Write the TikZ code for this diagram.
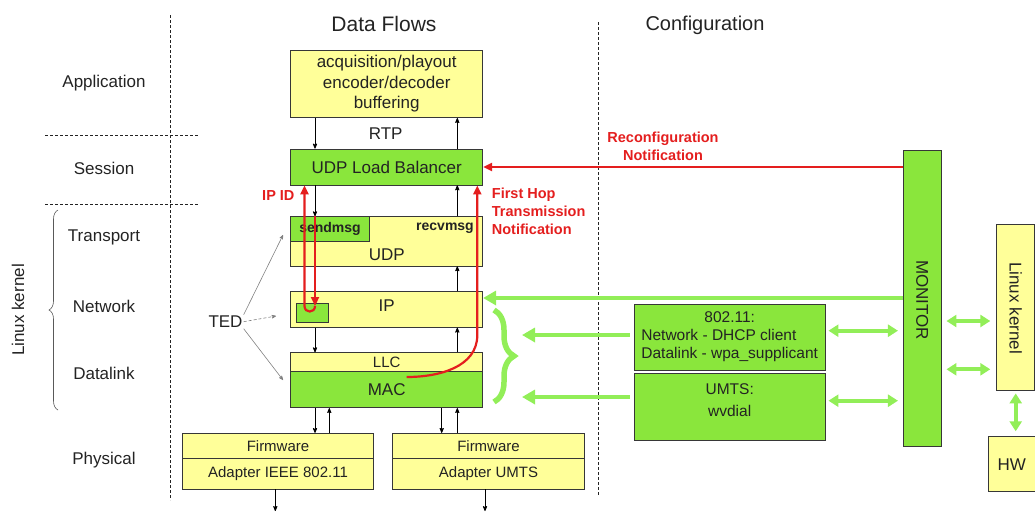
\documentclass[tikz,border=0pt]{standalone}
\usepackage{fontspec}
\setmainfont{Liberation Sans}
\usetikzlibrary{arrows, arrows.meta, decorations.pathreplacing}

\definecolor{layeryellow}{RGB}{255,255,153}
\definecolor{layergreen}{RGB}{138,230,60}
\definecolor{ctrlgreen}{RGB}{146,238,88}
\definecolor{notered}{RGB}{228,30,30}
\definecolor{boxline}{RGB}{55,55,55}
\definecolor{ink}{RGB}{35,35,35}

\begin{document}
\begin{tikzpicture}[x=1pt, y=-1pt, >=stealth', text=ink,
	layer/.style={draw=boxline, fill=layeryellow, line width=0.8pt, inner sep=0pt, font=\fontsize{17}{20.5}\selectfont},
	active/.style={layer, fill=layergreen},
	lbl/.style={font=\fontsize{17}{20.5}\selectfont},
	small/.style={font=\fontsize{15}{17.7}\selectfont},
	note/.style={text=notered, font=\bfseries\fontsize{14.5}{18}\selectfont},
	flow/.style={->, black, line width=0.8pt},
	notify/.style={-{Triangle[length=9pt,width=8pt]}, notered, line width=2.2pt},
	ctrl/.style={-{Triangle[length=13pt,width=14pt]}, ctrlgreen, line width=4.5pt},
	both/.style={{Triangle[length=10pt,width=12pt]}-{Triangle[length=10pt,width=12pt]}, ctrlgreen, line width=4pt},
	sep/.style={densely dashed, ink, line width=0.6pt},
	hint/.style={->, gray, line width=0.6pt}]
	\useasboundingbox (0,0) rectangle (1035,512);

	% layer names
	\node[lbl] (application) at (104,83) {Application};
	\node[lbl] (session) at (104,168) {Session};
	\node[lbl] (transport) at (104,237) {Transport};
	\node[lbl] (network) at (104,306) {Network};
	\node[lbl] (datalink) at (104,373) {Datalink};
	\node[lbl] (physical) at (104,460) {Physical};
	\node[lbl, rotate=90] (kernelname) at (18,310) {Linux kernel};
	\draw[decorate, decoration={brace, amplitude=9pt}, gray!70!black, line width=0.6pt] (58,410) -- (58,210);
	\draw[sep] (170,15) -- (170,500);
	\draw[sep] (598,22) -- (598,495);
	\draw[sep] (45,135) -- (198,135);
	\draw[sep] (45,204) -- (198,204);

	\node[font=\fontsize{21}{24}\selectfont] (flowtitle) at (384,24) {Data Flows};
	\node[font=\fontsize{20}{24}\selectfont] (conftitle) at (705,25) {Configuration};

	% protocol stack
	\node[layer, minimum width=192, minimum height=67.7, align=center] (app) at (386.7,83.8) {acquisition/playout\\encoder/decoder\\buffering};
	\node[lbl] (rtp) at (385.7,134) {RTP};
	\node[active, minimum width=192, minimum height=36] (lb) at (386.7,167) {UDP Load Balancer};
	\node[layer, minimum width=192, minimum height=49.3] (udp) at (386.7,241.3) {};
	\node[lbl] (udpname) at (386.7,255) {UDP};
	\node[active, minimum width=78.6, minimum height=24.3, font=\bfseries\fontsize{14}{16}\selectfont] (sm) at (330,228.8) {sendmsg};
	\node[font=\bfseries\fontsize{14}{16}\selectfont] (rm) at (445,228) {recvmsg};
	\node[layer, minimum width=192, minimum height=35.6] (ip) at (386.7,309.5) {};
	\node[lbl] (ipname) at (386.7,306) {IP};
	\node[active, minimum width=31.3, minimum height=19] (ipsm) at (312.3,312.8) {};
	\node[layer, minimum width=192, minimum height=19, font=\fontsize{15}{17}\selectfont] (llc) at (386.7,362.2) {LLC};
	\node[active, minimum width=192, minimum height=36] (mac) at (386.7,389.7) {MAC};
	\node[layer, minimum width=190.6, minimum height=25, font=\fontsize{15}{17}\selectfont] (fw1) at (278,445.8) {Firmware};
	\node[layer, minimum width=190.6, minimum height=30.7, font=\fontsize{15}{17}\selectfont] (ad1) at (278,473.7) {Adapter IEEE 802.11};
	\node[layer, minimum width=191.6, minimum height=25, font=\fontsize{15}{17}\selectfont] (fw2) at (488.5,445.8) {Firmware};
	\node[layer, minimum width=191.6, minimum height=30.7, font=\fontsize{15}{17}\selectfont] (ad2) at (488.5,473.7) {Adapter UMTS};

	% configuration side
	\node[active, minimum width=190.7, minimum height=66, font=\fontsize{15.5}{17.7}\selectfont] (wlan) at (729.7,337)
		{\begin{tabular}{@{}l@{}}\multicolumn{1}{@{}c@{}}{802.11:}\\Network - DHCP client\\Datalink - wpa\_supplicant\end{tabular}};
	\node[active, minimum width=190.7, minimum height=66.7] (umts) at (729.7,406.7) {};
	\node[small, align=center, font=\fontsize{15.5}{21.4}\selectfont] (umtsname) at (729.7,400) {UMTS:\\wvdial};
	\node[active, minimum width=37.7, minimum height=296.7] (mon) at (922.2,298.3) {};
	\node[lbl, rotate=-90] (monname) at (922.2,300) {MONITOR};
	\node[layer, minimum width=38, minimum height=166] (lk) at (1015.7,307) {};
	\node[lbl, rotate=-90] (lkname) at (1015.7,308) {Linux kernel};
	\node[layer, minimum width=46.7, minimum height=55] (hw) at (1011.7,464.2) {HW};

	% black data flow
	\coordinate (down) at (315,0);
	\coordinate (up) at (457.3,0);
	\coordinate (down2) at (441.7,0);
	\coordinate (up2) at (329.3,0);
	\foreach \a/\b in {app/lb, lb/udp, ip/llc, mac/fw1}
		\draw[flow] (\a.south -| down) -- (\b.north -| down);
	\foreach \a/\b in {lb/app, udp/lb, ip/udp, llc/ip, fw2/mac}
		\draw[flow] (\a.north -| up) -- (\b.south -| up);
	\draw[flow] (fw1.north -| up2) -- (mac.south -| up2);
	\draw[flow] (mac.south -| down2) -- (fw2.north -| down2);
	\coordinate (out1) at (275.3,511);
	\coordinate (out2) at (485,511);
	\draw[flow] (ad1.south -| out1) -- (out1);
	\draw[flow] (ad2.south -| out2) -- (out2);

	% TED hints
	\node[lbl, inner sep=1pt] (ted) at (225.5,321.7) {TED};
	\draw[hint] (ted.north east) -- (283,235);
	\draw[hint, densely dashed] (ted.east) -- (276,316);
	\draw[hint] (ted.south east) -- (283,380);

	% notifications
	\coordinate (turnR) at (315,306);
	\coordinate (turnL) at (304.5,306);
	\draw[notify] (udp.north -| down) -- (turnR);
	\draw[notify] (turnR) to[out=-90, in=-90, looseness=1.8] (turnL) -- (turnL |- lb.south);
	\node[note, anchor=east] (ipid) at (298,196) {IP ID};
	\coordinate (hop) at (406.7,377);
	\coordinate (hopup) at (477.3,335);
	\draw[notify] (hop) to[out=0, in=-90] (hopup) -- (hopup |- lb.south);
	\node[note, anchor=north west, align=left, inner sep=0pt] (hopname) at (491.7,188) {First Hop\\Transmission\\Notification};
	\draw[notify] (mon.west |- lb.east) -- (lb.east);
	\node[note, align=center] (reconf) at (663,146) {Reconfiguration\\Notification};

	% control
	\coordinate (cfg) at (0,298);
	\draw[ctrl] (mon.west |- cfg) -- (ip.east |- cfg);
	\draw[decorate, decoration={brace, amplitude=20pt, aspect=0.5}, ctrlgreen, line width=5.5pt] (494,310) -- (494,402);
	\coordinate (tipA) at (522,335);
	\coordinate (tipB) at (522,397);
	\draw[ctrl] ([xshift=-4pt]wlan.west |- tipA) -- (tipA);
	\draw[ctrl] ([xshift=-4pt]umts.west |- tipB) -- (tipB);
	\coordinate (d1) at (0,330.7);
	\coordinate (d2) at (0,400.7);
	\coordinate (k1) at (0,321);
	\coordinate (k2) at (0,369.3);
	\draw[both, shorten <=3pt, shorten >=5pt] (wlan.east |- d1) -- (mon.west |- d1);
	\draw[both, shorten <=3pt, shorten >=5pt] (umts.east |- d2) -- (mon.west |- d2);
	\draw[both, shorten <=5pt, shorten >=6pt] (mon.east |- k1) -- (lk.west |- k1);
	\draw[both, shorten <=5pt, shorten >=6pt] (mon.east |- k2) -- (lk.west |- k2);
	\draw[both, shorten <=3pt, shorten >=5pt] (lk.south) -- (hw.north -| lk.south);
\end{tikzpicture}
\end{document}
